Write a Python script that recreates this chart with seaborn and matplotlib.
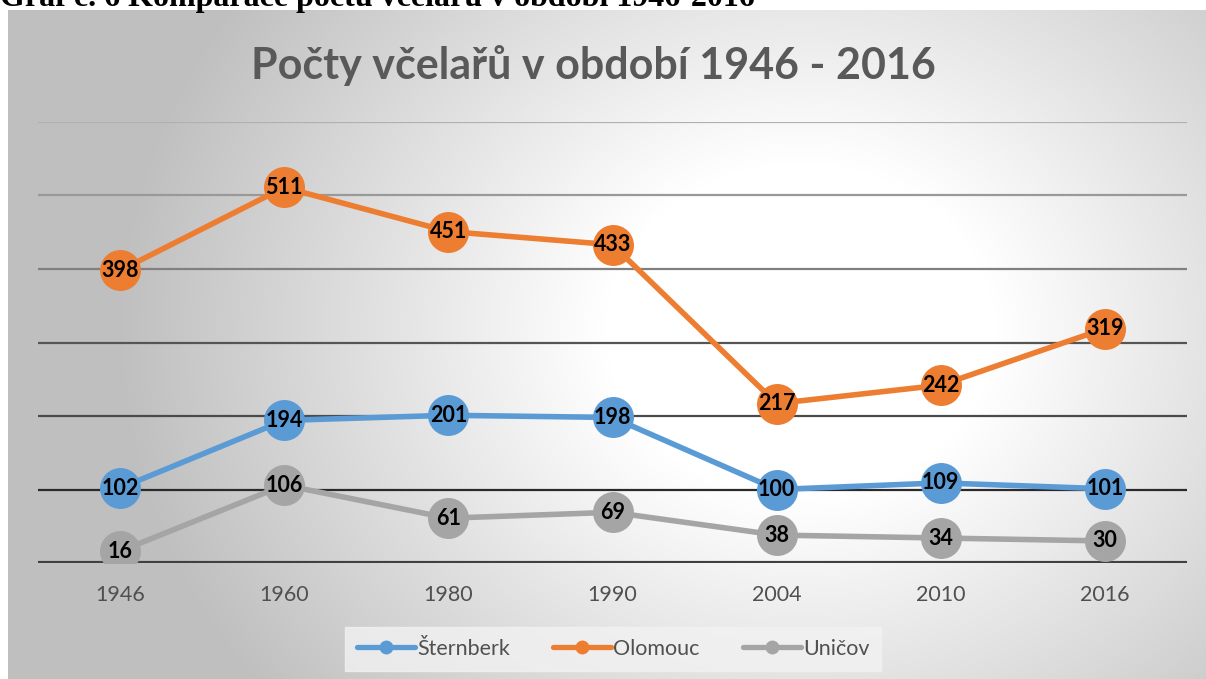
import numpy as np
import pandas as pd
import matplotlib
matplotlib.use("Agg")
import matplotlib.pyplot as plt
from matplotlib.lines import Line2D
import seaborn as sns

years = ["1946", "1960", "1980", "1990", "2004", "2010", "2016"]
sternberk = [102, 194, 201, 198, 100, 109, 101]
olomouc = [398, 511, 451, 433, 217, 242, 319]
unicov = [16, 106, 61, 69, 38, 34, 30]
series_names = ["Šternberk", "Olomouc", "Uničov"]
colors = ["#5B9BD5", "#ED7D31", "#A5A5A5"]

title = "Počty včelařů v období 1946 - 2016"
caption = "Graf č. 6 Komparace počtu včelařů v období 1946-2016"

sns.set_theme(style="white")
plt.rcParams["font.family"] = ["Lato", "DejaVu Sans"]

W, H = 1206, 679
fig = plt.figure(figsize=(W / 100, H / 100), dpi=100)
fig.patch.set_facecolor("white")

# gradient chart background
fx0, fy0 = 8, 10
bw, bh = W - fx0, H - fy0
yy, xx = np.mgrid[0:bh, 0:bw]
xx = xx + fx0
yy = yy + fy0
cx, cy, rx, ry = 800, 330, 650, 560
d = np.sqrt(((xx - cx) / rx) ** 2 + ((yy - cy) / ry) ** 2)
v = 1 - 0.25 * np.clip((d - 0.3) / 0.75, 0, 1)
img = np.dstack([v, v, v])
bg = fig.add_axes([fx0 / W, 0, bw / W, bh / H], zorder=-5)
bg.imshow(img, aspect="auto", interpolation="bilinear")
bg.axis("off")

ax = fig.add_axes([38 / W, 1 - 563 / H, (1187 - 38) / W, (563 - 122) / H])
ax.patch.set_alpha(0)

df = pd.DataFrame({"year": years * 3,
                   "value": sternberk + olomouc + unicov,
                   "series": sum([[n] * len(years) for n in series_names], [])})

sns.lineplot(data=df, x="year", y="value", hue="series", palette=colors,
             hue_order=series_names, marker="o", markersize=29.5, linewidth=4.0,
             markeredgewidth=0, legend=False, ax=ax, sort=False, zorder=3)

for name, vals in zip(series_names, [sternberk, olomouc, unicov]):
    for i, val in enumerate(vals):
        ax.text(i, val, str(val), ha="center", va="center", fontsize=15.5,
                fontweight="bold", color="black", zorder=5)

ax.set_xlim(-0.5, 6.5)
ax.set_ylim(0, 600)
ax.set_yticks([100, 200, 300, 400, 500, 600])
ax.set_yticklabels([])
grid_cols = ["#2a2a2a", "#4a4a4a", "#555555", "#808080", "#999999", "#b0b0b0"]
for yv, c in zip([100, 200, 300, 400, 500, 600], grid_cols):
    ax.axhline(yv, color=c, lw=1.6, zorder=1)
ax.axhline(0, color="#404040", lw=3, zorder=2)
for s in ax.spines.values():
    s.set_visible(False)
ax.tick_params(axis="y", length=0)
ax.tick_params(axis="x", length=0, pad=16, labelsize=15.5, colors="#505050")
ax.set_xlabel("")
ax.set_ylabel("")

fig.text(593 / W, 1 - 66 / H, title, ha="center", va="center", fontsize=31,
         fontweight="bold", color="#595959")

fig.text(0.0, 1 - 6 / H, caption, ha="left", va="baseline", fontsize=23,
         fontweight="bold", color="black", family=["Liberation Serif", "DejaVu Serif"])

handles = [Line2D([0], [0], color=c, lw=3.8, marker="o", markersize=10,
                  markeredgewidth=0) for c in colors]
leg = fig.legend(handles, series_names, loc="center", bbox_to_anchor=(613 / W, 1 - 649 / H),
                 ncol=3, frameon=True, fancybox=False, facecolor="#f2f2f2",
                 edgecolor="#f2f2f2", fontsize=15.5, handlelength=2.7,
                 handletextpad=0.1, columnspacing=2.0, borderpad=0.55)
for t in leg.get_texts():
    t.set_color("#505050")

fig.savefig("out.png", dpi=100)
